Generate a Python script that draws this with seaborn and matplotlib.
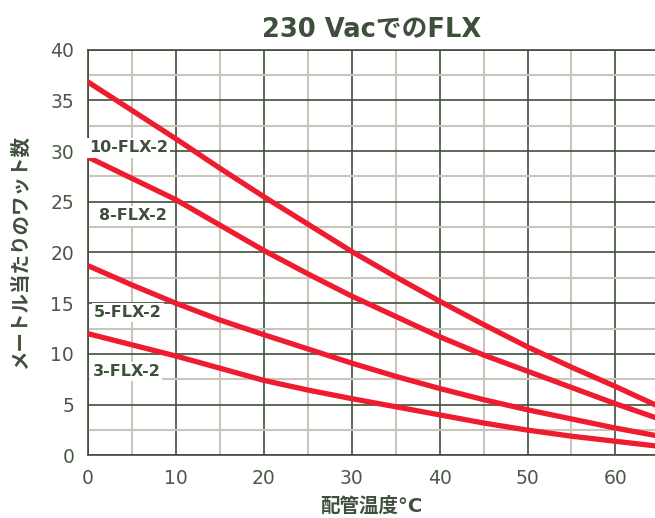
import matplotlib
matplotlib.use("Agg")
import matplotlib.pyplot as plt
import seaborn as sns
import pandas as pd
from matplotlib.ticker import MultipleLocator

temps = [0, 5, 10, 15, 20, 25, 30, 35, 40, 45, 50, 55, 60, 65]
flx10 = [36.8, 34.0, 31.2, 28.3, 25.5, 22.8, 20.1, 17.6, 15.2, 12.9, 10.7, 8.7, 6.8, 4.8]
flx8 = [29.4, 27.3, 25.2, 22.7, 20.2, 17.9, 15.7, 13.7, 11.7, 9.9, 8.3, 6.7, 5.1, 3.6]
flx5 = [18.7, 16.8, 15.0, 13.35, 11.9, 10.5, 9.1, 7.8, 6.6, 5.5, 4.5, 3.6, 2.7, 1.9]
flx3 = [12.0, 10.9, 9.8, 8.6, 7.4, 6.45, 5.6, 4.8, 4.0, 3.2, 2.5, 1.9, 1.4, 0.9]
series_names = ["10-FLX-2", "8-FLX-2", "5-FLX-2", "3-FLX-2"]
label_pos = [(0.15, 30.3), (1.2, 23.6), (0.7, 14.1), (0.5, 8.3)]

title = "230 VacでのFLX"
xlabel = "配管温度°C"
ylabel = "メートル当たりのワット数"

rows = []
for name, vals in zip(series_names, [flx10, flx8, flx5, flx3]):
    for t, v in zip(temps, vals):
        rows.append({"temp": t, "watts": v, "series": name})
df = pd.DataFrame(rows)

sns.set_style("white")
plt.rcParams["font.family"] = ["DejaVu Sans", "Noto Sans CJK JP"]

dark = "#3e4f3b"
light = "#c9c5bb"
textc = "#4a5a47"
red = "#ee1c2e"

fig = plt.figure(figsize=(6.55, 5.18), dpi=100)
ax = fig.add_axes([0.1344, 0.1207, 0.8656, 0.7837])

ax.set_xlim(0, 64.5)
ax.set_ylim(0, 40)
ax.xaxis.set_major_locator(MultipleLocator(10))
ax.xaxis.set_minor_locator(MultipleLocator(5))
ax.yaxis.set_major_locator(MultipleLocator(5))
ax.yaxis.set_minor_locator(MultipleLocator(2.5))
ax.grid(which="minor", color=light, linewidth=1.5, zorder=0)
ax.grid(which="major", color=dark, linewidth=1.2, zorder=0.5)
ax.set_axisbelow(True)

sns.lineplot(data=df, x="temp", y="watts", hue="series",
             palette=[red] * 4, linewidth=3.8, legend=False, ax=ax,
             zorder=3)

for name, (px, py) in zip(series_names, label_pos):
    ax.text(px, py, name, fontsize=11.5, fontweight="bold", color=dark,
            ha="left", va="center", zorder=4,
            bbox=dict(facecolor="white", edgecolor="none", pad=1.5))

ax.spines["right"].set_visible(False)
for s in ["left", "bottom", "top"]:
    ax.spines[s].set_color(dark)
    ax.spines[s].set_linewidth(1.2)

ax.tick_params(which="both", length=0, labelsize=13.5, labelcolor=textc, pad=10)
ax.set_title(title, fontsize=18.5, fontweight="bold", color=dark, pad=9)
ax.set_xlabel(xlabel, fontsize=14, fontweight="bold", color=dark, labelpad=6)
ax.set_ylabel(ylabel, fontsize=14, fontweight="bold", color=dark, labelpad=15)

fig.savefig("out.png", dpi=100)
